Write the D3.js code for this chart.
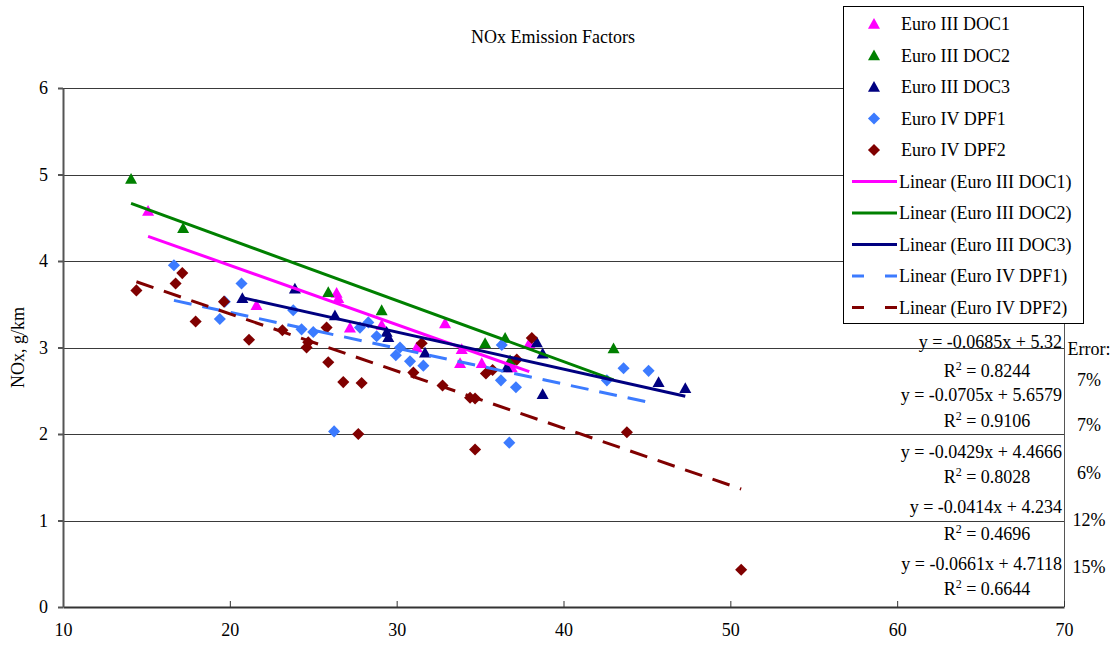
<!DOCTYPE html>
<html>
<head>
<meta charset="utf-8">
<script src="https://cdn.jsdelivr.net/npm/d3@7"></script>
<style>
  html, body { margin: 0; padding: 0; background: #fff; }
  svg text { font-family: "Liberation Serif", "Times New Roman", serif; fill: #000; }
</style>
</head>
<body>
<svg id="chart" width="1111" height="647"></svg>
<script>
// Vehicle speed (km/h) and NOx emission factor (g/km) per test vehicle
const doc1X = [15.1, 21.6, 26.4, 26.5, 27.2, 29.1, 31.2, 32.9, 33.8, 33.9, 35.1, 36.9, 37.95];
const doc1Y = [4.58, 3.49, 3.63, 3.57, 3.23, 3.26, 3.00, 3.28, 2.82, 2.98, 2.82, 2.77, 3.05];

const doc2X = [14.08, 17.2, 25.9, 29.1, 35.3, 36.5, 36.8, 43.0];
const doc2Y = [4.95, 4.38, 3.64, 3.43, 3.05, 3.11, 2.85, 2.99];

const doc3X = [20.75, 23.9, 26.3, 29.4, 29.5, 31.7, 36.6, 38.4, 38.75, 38.75, 45.7, 47.3];
const doc3Y = [3.57, 3.68, 3.37, 3.18, 3.12, 2.94, 2.77, 3.06, 2.93, 2.46, 2.60, 2.53];

const dpf1X = [16.65, 19.4, 19.7, 20.7, 23.8, 24.3, 25.0, 26.25, 27.8, 28.3, 28.8, 29.95, 30.2, 30.8, 31.6, 36.3, 36.25, 36.75, 37.15, 42.6, 43.6, 45.1];
const dpf1Y = [3.95, 3.33, 3.53, 3.74, 3.43, 3.21, 3.18, 2.03, 3.23, 3.29, 3.13, 2.91, 3.00, 2.84, 2.79, 3.03, 2.62, 1.90, 2.54, 2.62, 2.76, 2.73];

const dpf2X = [14.4, 16.75, 17.15, 17.95, 19.65, 21.15, 23.15, 24.6, 24.7, 25.8, 25.9, 26.8, 27.7, 27.9, 31.0, 31.5, 32.75, 34.4, 34.7, 34.7, 35.35, 35.75, 37.2, 38.1, 43.8, 50.65];
const dpf2Y = [3.66, 3.74, 3.86, 3.30, 3.53, 3.09, 3.20, 3.00, 3.06, 3.23, 2.83, 2.60, 2.00, 2.59, 2.71, 3.05, 2.56, 2.42, 2.41, 1.82, 2.70, 2.74, 2.86, 3.11, 2.02, 0.43];

const seriesNames = ["Euro III DOC1", "Euro III DOC2", "Euro III DOC3", "Euro IV DPF1", "Euro IV DPF2"];
const seriesColors = ["#ff00ff", "#008000", "#000080", "#3c7bff", "#800000"];
const seriesShapes = ["triangle", "triangle", "triangle", "diamond", "diamond"];

// Linear trend fits: slope, intercept, R squared
const trendSlopes = [-0.0685, -0.0705, -0.0429, -0.0414, -0.0661];
const trendIntercepts = [5.32, 5.6579, 4.4666, 4.234, 4.7118];
const trendR2 = [0.8244, 0.9106, 0.8028, 0.4696, 0.6644];
const trendErrors = ["7%", "7%", "6%", "12%", "15%"];

const xTicks = [10, 20, 30, 40, 50, 60, 70];
const yTicks = [0, 1, 2, 3, 4, 5, 6];

const chartTitle = "NOx Emission Factors";
const yTitle = "NOx, g/km";

const seriesX = [doc1X, doc2X, doc3X, dpf1X, dpf2X];
const seriesY = [doc1Y, doc2Y, doc3Y, dpf1Y, dpf2Y];

const FONT = "'Liberation Serif', 'Times New Roman', serif";

const svg = d3.select("#chart");
const x = d3.scaleLinear().domain([10, 70]).range([63, 1064]);
const y = d3.scaleLinear().domain([0, 6]).range([607, 88]);

// Marker shapes
const triangleType = {
  draw(ctx, size) {
    const w = Math.sqrt(size) * 1.55, h = w * 0.9;
    ctx.moveTo(0, -h * 0.55);
    ctx.lineTo(w / 2, h * 0.45);
    ctx.lineTo(-w / 2, h * 0.45);
    ctx.closePath();
  }
};
const diamondType = {
  draw(ctx, size) {
    const r = Math.sqrt(size) * 0.78;
    ctx.moveTo(0, -r);
    ctx.lineTo(r, 0);
    ctx.lineTo(0, r);
    ctx.lineTo(-r, 0);
    ctx.closePath();
  }
};
const symbolFor = s => d3.symbol().type(s === "triangle" ? triangleType : diamondType).size(60);

// Gridlines
svg.append("g")
  .selectAll("line")
  .data(yTicks.filter(d => d > 0))
  .join("line")
  .attr("x1", x(10)).attr("x2", x(70))
  .attr("y1", d => Math.round(y(d)) + 0.5).attr("y2", d => Math.round(y(d)) + 0.5)
  .attr("stroke", "#3a3a3a").attr("stroke-width", 1);

// Plot area right edge
svg.append("line")
  .attr("x1", Math.round(x(70)) + 0.5).attr("x2", Math.round(x(70)) + 0.5)
  .attr("y1", y(6)).attr("y2", y(0))
  .attr("stroke", "#555").attr("stroke-width", 1);

// Axes
const xAxis = d3.axisBottom(x).tickValues(xTicks).tickFormat(d3.format("d"))
  .tickSizeInner(-6).tickSizeOuter(0).tickPadding(20);
const gx = svg.append("g").attr("transform", `translate(0,${y(0)})`).call(xAxis);
gx.attr("font-family", null);
gx.select(".domain").attr("stroke", "#333").attr("stroke-width", 2);
gx.selectAll(".tick line").attr("stroke", "#333");
gx.selectAll("text").style("font-family", FONT).style("font-size", "18px").attr("dy", "0.5em");

const yAxis = d3.axisLeft(y).tickValues(yTicks).tickFormat(d3.format("d"))
  .tickSizeInner(5).tickSizeOuter(0).tickPadding(10);
const gy = svg.append("g").attr("transform", `translate(${x(10)},0)`).call(yAxis);
gy.attr("font-family", null);
gy.select(".domain").attr("stroke", "#555").attr("stroke-width", 2);
gy.selectAll(".tick line").attr("stroke", "#555").attr("stroke-width", 2);
gy.selectAll("text").style("font-family", FONT).style("font-size", "18px");

// Titles
svg.append("text").attr("x", 553).attr("y", 43).attr("text-anchor", "middle")
  .attr("font-size", 18).text(chartTitle);
svg.append("text").attr("transform", `translate(24,${y(3)}) rotate(-90)`)
  .attr("text-anchor", "middle").attr("font-size", 18).text(yTitle);

// Markers
seriesNames.forEach((name, i) => {
  const pts = seriesX[i].map((v, j) => [v, seriesY[i][j]]);
  svg.append("g").selectAll("path")
    .data(pts)
    .join("path")
    .attr("d", symbolFor(seriesShapes[i]))
    .attr("transform", d => `translate(${x(d[0])},${y(d[1])})`)
    .attr("fill", seriesColors[i]);
});

// Trend lines over each series' speed range
const trendLine = d3.line().x(d => x(d[0])).y(d => y(d[1]));
seriesNames.forEach((name, i) => {
  const [lo, hi] = d3.extent(seriesX[i]);
  const pts = [lo, hi].map(v => [v, trendSlopes[i] * v + trendIntercepts[i]]);
  svg.append("path")
    .attr("d", trendLine(pts))
    .attr("fill", "none")
    .attr("stroke", seriesColors[i])
    .attr("stroke-width", 3)
    .attr("stroke-dasharray", i >= 3 ? "18,11" : null);
});

// Fit equations and R squared
const eqY = [348, 401, 458, 513, 570];
const r2Y = [377, 427, 483, 540, 595];
trendSlopes.forEach((s, i) => {
  svg.append("text").attr("x", 1062).attr("y", eqY[i]).attr("text-anchor", "end")
    .attr("font-size", 18).text(`y = ${s}x + ${trendIntercepts[i]}`);
  const t = svg.append("text").attr("x", 987).attr("y", r2Y[i]).attr("text-anchor", "middle")
    .attr("font-size", 18);
  t.append("tspan").text("R");
  t.append("tspan").attr("font-size", 12).attr("dy", -7).text("2");
  t.append("tspan").attr("dy", 7).text(` = ${trendR2[i]}`);
});

// Error column
svg.append("text").attr("x", 1089).attr("y", 355).attr("text-anchor", "middle")
  .attr("font-size", 18).text("Error:");
const errY = [386, 431, 479, 526, 573];
svg.append("g").selectAll("text")
  .data(trendErrors)
  .join("text")
  .attr("x", 1089).attr("y", (d, i) => errY[i])
  .attr("text-anchor", "middle").attr("font-size", 18)
  .text(d => d);

// Legend
const legend = svg.append("g");
legend.append("rect").attr("x", 843.5).attr("y", 6.5).attr("width", 240).attr("height", 317)
  .attr("fill", "#fff").attr("stroke", "#000").attr("stroke-width", 1);
const rowY = i => 24 + i * 31.5;
seriesNames.forEach((name, i) => {
  legend.append("path")
    .attr("d", symbolFor(seriesShapes[i]))
    .attr("transform", `translate(874,${rowY(i)})`)
    .attr("fill", seriesColors[i]);
  legend.append("text").attr("x", 901).attr("y", rowY(i) + 6).attr("font-size", 18).text(name);
});
seriesNames.forEach((name, i) => {
  const ry = rowY(i + 5);
  legend.append("line")
    .attr("x1", 852).attr("x2", 897).attr("y1", ry).attr("y2", ry)
    .attr("stroke", seriesColors[i]).attr("stroke-width", 3)
    .attr("stroke-dasharray", i >= 3 ? "12,21" : null);
  legend.append("text").attr("x", 899).attr("y", ry + 6).attr("font-size", 18)
    .text(`Linear (${name})`);
});
</script>
</body>
</html>
